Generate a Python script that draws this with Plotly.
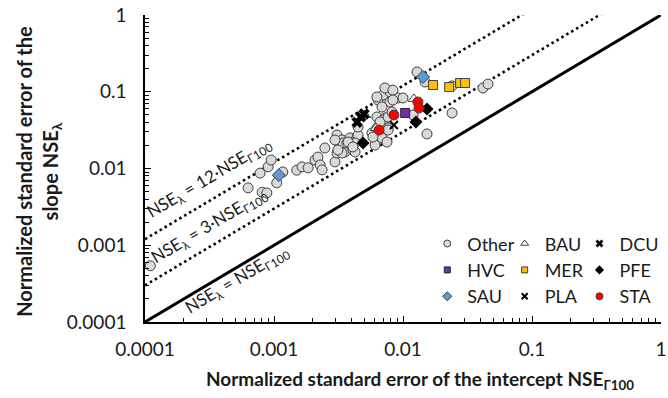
import numpy as np
import plotly.graph_objects as go

# Normalized standard errors: intercept (NSE_Γ100, x) and slope (NSE_λ, y)
other_x = [0.00011, 0.00063, 0.00078, 0.00081, 0.00088, 0.0009, 0.00095, 0.00105,
           0.00117, 0.0015, 0.00165, 0.00184, 0.00208, 0.00219, 0.00228, 0.00236,
           0.00248, 0.00297, 0.00308, 0.00313, 0.00337, 0.00343, 0.00355, 0.00368,
           0.00388, 0.00403, 0.00409, 0.00425, 0.00308, 0.00337, 0.0044, 0.00448,
           0.00425, 0.00448, 0.00628, 0.00664, 0.00724, 0.00792, 0.00822, 0.00607,
           0.00687, 0.00751, 0.00575, 0.00628, 0.00766, 0.0064, 0.007, 0.00792,
           0.00914, 0.0100, 0.00687, 0.00724, 0.00835, 0.00628, 0.01285, 0.01483,
           0.024, 0.0417, 0.0456, 0.024, 0.01535, 0.01197, 0.007, 0.00664,
           0.00766, 0.00822, 0.00585, 0.00766, 0.00297, 0.00313, 0.00375, 0.00409,
           0.00835]
other_y = [0.00054, 0.0056, 0.0087, 0.0049, 0.0048, 0.0105, 0.0129, 0.0065,
           0.009, 0.0095, 0.0105, 0.0102, 0.0129, 0.0141, 0.0111, 0.0096,
           0.0185, 0.0122, 0.0273, 0.0221, 0.0235, 0.0215, 0.0164, 0.0215,
           0.025, 0.0215, 0.0174, 0.0164, 0.0159, 0.0159, 0.0257, 0.0273,
           0.0215, 0.0347, 0.0469, 0.0369, 0.0455, 0.0735, 0.0529, 0.0202,
           0.025, 0.0221, 0.029, 0.0337, 0.0337, 0.0781, 0.0907, 0.0993,
           0.083, 0.083, 0.0633, 0.112, 0.105, 0.0855, 0.181, 0.134,
           0.119, 0.112, 0.126, 0.0529, 0.0282, 0.0498, 0.0428, 0.0404,
           0.0469, 0.0545, 0.0257, 0.0317, 0.0235, 0.0174, 0.0221, 0.0191,
           0.078]

bau_x = [0.01216, 0.00507, 0.00618]
bau_y = [0.0805, 0.0498, 0.0337]
dcu_x = [0.0044, 0.0047, 0.00499]
dcu_y = [0.040, 0.047, 0.0513]
hvc_x = [0.0104]
hvc_y = [0.0529]
mer_x = [0.0171, 0.0228, 0.0277, 0.0303]
mer_y = [0.1225, 0.115, 0.130, 0.130]
pfe_x = [0.0049, 0.01535, 0.0126]
pfe_y = [0.0215, 0.0596, 0.0404]
sau_x = [0.00109, 0.0143]
sau_y = [0.0082, 0.156]
pla_x = [0.0085]
pla_y = [0.0369]
sta_x = [0.01306, 0.0133, 0.0085, 0.00652]
sta_y = [0.0735, 0.0614, 0.0498, 0.0317]

groups = ["Other", "BAU", "DCU", "HVC", "MER", "PFE", "SAU", "PLA", "STA"]
group_x = {"Other": other_x, "BAU": bau_x, "DCU": dcu_x, "HVC": hvc_x, "MER": mer_x,
           "PFE": pfe_x, "SAU": sau_x, "PLA": pla_x, "STA": sta_x}
group_y = {"Other": other_y, "BAU": bau_y, "DCU": dcu_y, "HVC": hvc_y, "MER": mer_y,
           "PFE": pfe_y, "SAU": sau_y, "PLA": pla_y, "STA": sta_y}

# Reference lines NSE_λ = k · NSE_Γ100
ratio_factors = [1, 3, 12]
line_x = [1e-4, 1.0]

axis_tickvals = [0.0001, 0.001, 0.01, 0.1, 1]
axis_ticktext = ["0.0001", "0.001", "0.01", "0.1", "1"]
minor_tickvals = [m * 10.0 ** e for e in range(-4, 0) for m in range(2, 10)]

# legend columns (three legends side by side)
legend_columns = [["Other", "HVC", "SAU"], ["BAU", "MER", "PLA"], ["DCU", "PFE", "STA"]]

DARK = "#404040"
styles = {
    "Other": dict(symbol="circle", color="#d9d9d9", line=dict(color=DARK, width=1), size=10),
    "BAU": dict(symbol="triangle-up", color="white", line=dict(color=DARK, width=1), size=10),
    "DCU": dict(symbol="x", color="black", line=dict(color="black", width=0), size=10),
    "HVC": dict(symbol="square", color="#7030a0", line=dict(color="#262626", width=1), size=9),
    "MER": dict(symbol="square", color="#ffc000", line=dict(color=DARK, width=1), size=9),
    "PFE": dict(symbol="diamond", color="black", line=dict(color="black", width=0), size=10),
    "SAU": dict(symbol="diamond", color="#5b9bd5", line=dict(color=DARK, width=1), size=10),
    "PLA": dict(symbol="x-thin", color="black", line=dict(color="black", width=2), size=8),
    "STA": dict(symbol="circle", color="#ff0000", line=dict(color=DARK, width=1), size=10),
}

FONT = "Lato"
TXT = "#1a1a1a"
fig = go.Figure()

# ratio lines (the 1:1 line sits on the overlay y axis that carries the inside ticks)
for k in ratio_factors:
    fig.add_trace(go.Scatter(
        x=line_x, y=[k * v for v in line_x], mode="lines", showlegend=False,
        hoverinfo="skip", yaxis="y2" if k == 1 else "y",
        line=dict(color="black", width=3 if k == 1 else 2.6,
                  dash="solid" if k == 1 else "2.5px,3.2px")))

# data points
for g in groups:
    st = styles[g]
    fig.add_trace(go.Scatter(
        x=group_x[g], y=group_y[g], mode="markers", name=g, showlegend=False,
        marker=dict(symbol=st["symbol"], color=st["color"], size=st["size"], line=st["line"])))

# legend entries with smaller symbols
legend_ids = ["legend", "legend2", "legend3"]
for lid, col in zip(legend_ids, legend_columns):
    for g in col:
        st = styles[g]
        fig.add_trace(go.Scatter(
            x=[None], y=[None], mode="markers", name=g, legend=lid,
            marker=dict(symbol=st["symbol"], color=st["color"],
                        size=max(st["size"] - 3, 6), line=st["line"])))

legend_common = dict(font=dict(family=FONT, size=18, color=TXT),
                     bgcolor="rgba(0,0,0,0)", yanchor="top", xanchor="left",
                     itemsizing="trace", tracegroupgap=0)
leg_x = [0.547, 0.697, 0.842]
fig.update_layout(
    legend=dict(x=leg_x[0], y=0.315, **legend_common),
    legend2=dict(x=leg_x[1], y=0.315, **legend_common),
    legend3=dict(x=leg_x[2], y=0.315, **legend_common),
)

tick_font = dict(family=FONT, size=19, color=TXT)
minor_inside = dict(ticks="inside", ticklen=4, tickwidth=1, tickcolor="black",
                    showgrid=False, tickmode="array", tickvals=minor_tickvals)

fig.update_xaxes(
    type="log", range=[-4, 0], tickmode="array", tickvals=axis_tickvals,
    ticktext=axis_ticktext, ticks="inside", ticklen=6, tickwidth=1, tickcolor="black",
    showline=True, linecolor="black", linewidth=1.5, showgrid=False, zeroline=False,
    tickfont=tick_font, minor=minor_inside, ticklabelstandoff=9)

# labelled y axis: transparent outside ticks set the gap to the labels
fig.update_layout(
    yaxis=dict(
        type="log", range=[-4, 0], tickmode="array", tickvals=axis_tickvals,
        ticktext=axis_ticktext, ticks="outside", ticklen=13, tickwidth=1,
        tickcolor="rgba(0,0,0,0)", showline=True, linecolor="black", linewidth=1.5,
        showgrid=False, zeroline=False, tickfont=tick_font, minor=minor_inside),
    yaxis2=dict(
        type="log", range=[-4, 0], overlaying="y", side="left", tickmode="array",
        tickvals=axis_tickvals, ticks="inside", ticklen=6, tickwidth=1,
        tickcolor="black", showticklabels=False, showline=False, showgrid=False,
        zeroline=False),
)

# line labels, rotated along the lines (shifted off the line, perpendicular to it)
line_labels = [
    ("NSE<sub>λ</sub> = 12·NSE<sub>Γ100</sub>", -3.473, -2.202, -3.5, 6),
    ("NSE<sub>λ</sub> = 3·NSE<sub>Γ100</sub>", -3.473, -2.827, -3.5, 6),
    ("NSE<sub>λ</sub> = NSE<sub>Γ100</sub>", -3.287, -3.466, 0, 1),
]
for txt, lx, ly, dx, dy in line_labels:
    fig.add_annotation(x=lx, y=ly, xref="x", yref="y", text=txt, showarrow=False,
                       textangle=-30.75, font=dict(family=FONT, size=17, color=TXT),
                       xanchor="center", yanchor="middle", xshift=dx, yshift=dy)

# axis titles
fig.add_annotation(
    text="<b>Normalized standard error of the intercept NSE<sub>Γ100</sub></b>",
    xref="paper", yref="paper", x=0.533, y=-0.19, showarrow=False,
    xanchor="center", yanchor="middle", font=dict(family=FONT, size=19, color=TXT))
fig.add_annotation(
    text="<b>Normalized standard error of the<br>slope NSE<sub>λ</sub></b>",
    xref="paper", yref="paper", x=-0.207, y=0.49, showarrow=False, textangle=-90,
    xanchor="center", yanchor="middle", font=dict(family=FONT, size=20, color=TXT))

fig.update_layout(
    width=668, height=398,
    margin=dict(l=145, r=7, t=15, b=76, autoexpand=False),
    plot_bgcolor="white", paper_bgcolor="white",
    font=dict(family=FONT, color=TXT),
)

fig.write_html("out.html")
